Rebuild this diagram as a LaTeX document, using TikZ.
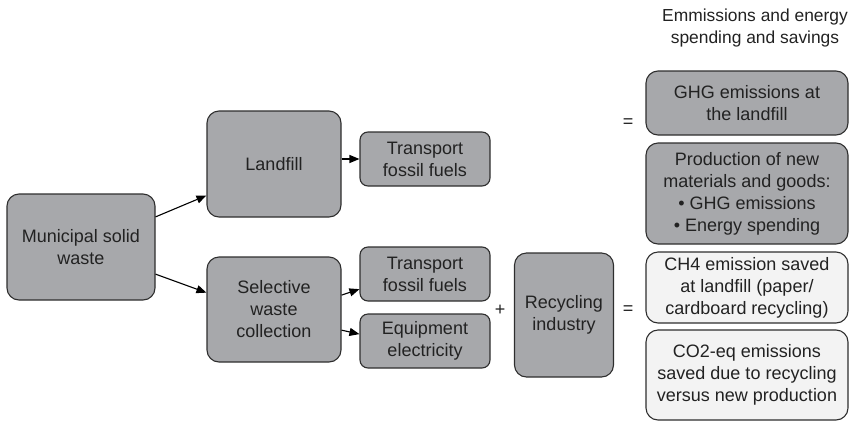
\documentclass[tikz,border=0pt]{standalone}
\usepackage{fontspec}
\setmainfont{Liberation Sans}
\usetikzlibrary{arrows.meta}
\definecolor{boxgray}{HTML}{A7A8AB}
\definecolor{boxlight}{HTML}{F3F3F3}
\definecolor{edgegray}{HTML}{2E2E2E}
\definecolor{txtgray}{HTML}{222222}
\begin{document}
\begin{tikzpicture}[x=1pt,y=-1pt,->,>={Triangle[length=10pt,width=8pt]},
                line width=1.1pt,
                font=\fontsize{18}{22}\selectfont,text=txtgray,
                main node/.style={draw=edgegray,fill=boxgray,rounded corners=12pt,align=center,inner sep=0pt},
                small node/.style={main node,rounded corners=8pt,minimum width=130pt,minimum height=54pt},
                saved node/.style={main node,fill=boxlight,minimum width=202pt}]
  \useasboundingbox (0,0) rectangle (851,421);

  \node[main node,minimum width=148pt,minimum height=106pt] (msw) at (81,247) {Municipal solid\\waste};
  \node[main node,minimum width=134pt,minimum height=106pt] (landfill) at (274,164) {Landfill};
  \node[main node,minimum width=134pt,minimum height=105pt] (swc) at (274,309.5) {Selective\\waste\\collection};
  \node[small node] (tr1) at (425,159) {Transport\\fossil fuels};
  \node[small node] (tr2) at (425,274) {Transport\\fossil fuels};
  \node[small node] (equip) at (425,341) {Equipment\\electricity};
  \node[main node,minimum width=99pt,minimum height=124pt] (recyc) at (564,315) {Recycling\\industry};

  \node[main node,minimum width=202pt,minimum height=64pt] (ghg) at (747,103) {GHG emissions at\\the landfill};
  \node[main node,minimum width=202pt,minimum height=101pt] (prod) at (747,193.5)
    {Production of new\\materials and goods:\\\textbullet\ GHG emissions\\\textbullet\ Energy spending};
  \node[saved node,minimum height=71pt] (ch4) at (747,287.5) {CH4 emission saved\\at landfill (paper/\\cardboard recycling)};
  \node[saved node,minimum height=90pt] (co2) at (747,375) {CO2-eq emissions\\saved due to recycling\\versus new production};

  \node[align=center,font=\fontsize{17.4}{22}\selectfont] (title) at (755,28) {Emmissions and energy\\spending and savings};
  \node (plus) at (500,310) {+};
  \node (eq1) at (628,123) {=};
  \node (eq2) at (628,310) {=};

  \path
    (msw.22) edge (landfill.205)
    (msw.-20) edge (swc.166)
    (landfill.east |- tr1.west) edge (tr1.west)
    (swc.12) edge (tr2.193)
    (swc.-17) edge (equip.174)
  ;
\end{tikzpicture}
\end{document}
